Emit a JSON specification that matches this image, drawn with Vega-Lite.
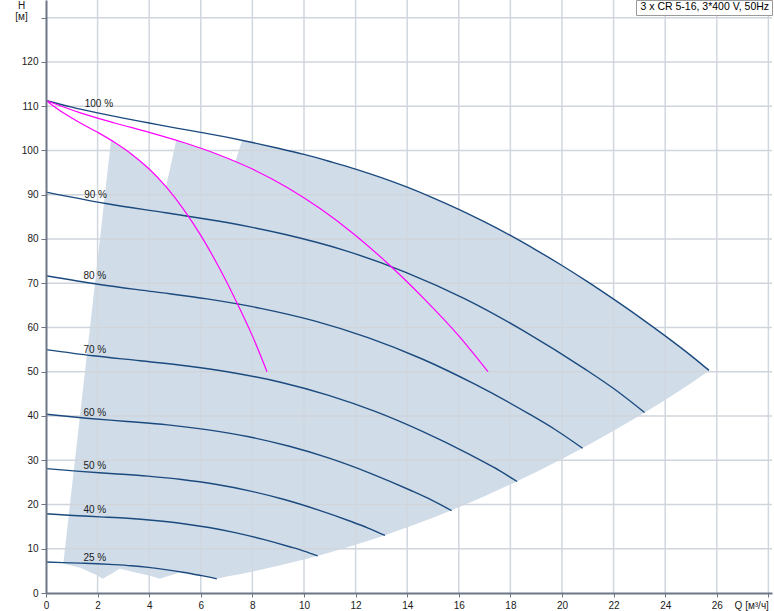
{
  "$schema": "https://vega.github.io/schema/vega-lite/v6.json",
  "autosize": "none",
  "width": 726,
  "height": 593,
  "padding": {"left": 46, "top": 0, "right": 2, "bottom": 18},
  "background": "#ffffff",
  "config": {
    "view": {"stroke": null},
    "font": "Liberation Sans"
  },
  "datasets": {
    "area": [
      {"name": "3 x CR 5-16, 3*400 V, 50Hz", "Q": 0.67, "up": 6.6, "low": 6.6},
      {"name": "3 x CR 5-16, 3*400 V, 50Hz", "Q": 1.0, "up": 23.7, "low": 6.15},
      {"name": "3 x CR 5-16, 3*400 V, 50Hz", "Q": 1.333, "up": 40.9, "low": 5.7},
      {"name": "3 x CR 5-16, 3*400 V, 50Hz", "Q": 1.8, "up": 64.9, "low": 4.48},
      {"name": "3 x CR 5-16, 3*400 V, 50Hz", "Q": 2.0, "up": 75.3, "low": 3.95},
      {"name": "3 x CR 5-16, 3*400 V, 50Hz", "Q": 2.2, "up": 85.6, "low": 3.2},
      {"name": "3 x CR 5-16, 3*400 V, 50Hz", "Q": 2.52, "up": 102.3, "low": 4.32},
      {"name": "3 x CR 5-16, 3*400 V, 50Hz", "Q": 2.85, "up": 101.1, "low": 5.5},
      {"name": "3 x CR 5-16, 3*400 V, 50Hz", "Q": 3.0, "up": 100.5, "low": 5.3},
      {"name": "3 x CR 5-16, 3*400 V, 50Hz", "Q": 3.5, "up": 98.3, "low": 4.6},
      {"name": "3 x CR 5-16, 3*400 V, 50Hz", "Q": 4.0, "up": 95.8, "low": 3.95},
      {"name": "3 x CR 5-16, 3*400 V, 50Hz", "Q": 4.41, "up": 93.4, "low": 3.2},
      {"name": "3 x CR 5-16, 3*400 V, 50Hz", "Q": 4.65, "up": 91.8, "low": 3.68},
      {"name": "3 x CR 5-16, 3*400 V, 50Hz", "Q": 4.8, "up": 95.7, "low": 3.93},
      {"name": "3 x CR 5-16, 3*400 V, 50Hz", "Q": 5.05, "up": 102.3, "low": 4.35},
      {"name": "3 x CR 5-16, 3*400 V, 50Hz", "Q": 5.2, "up": 102.0, "low": 4.8},
      {"name": "3 x CR 5-16, 3*400 V, 50Hz", "Q": 5.5, "up": 101.5, "low": 4.5},
      {"name": "3 x CR 5-16, 3*400 V, 50Hz", "Q": 6.0, "up": 100.5, "low": 3.95},
      {"name": "3 x CR 5-16, 3*400 V, 50Hz", "Q": 6.5, "up": 99.5, "low": 3.35},
      {"name": "3 x CR 5-16, 3*400 V, 50Hz", "Q": 6.62, "up": 99.2, "low": 3.2},
      {"name": "3 x CR 5-16, 3*400 V, 50Hz", "Q": 7.0, "up": 98.3, "low": 3.71},
      {"name": "3 x CR 5-16, 3*400 V, 50Hz", "Q": 7.34, "up": 97.5, "low": 4.08},
      {"name": "3 x CR 5-16, 3*400 V, 50Hz", "Q": 7.6, "up": 102.3, "low": 4.37},
      {"name": "3 x CR 5-16, 3*400 V, 50Hz", "Q": 8, "up": 101.8, "low": 4.85},
      {"name": "3 x CR 5-16, 3*400 V, 50Hz", "Q": 9, "up": 100.5, "low": 6.13},
      {"name": "3 x CR 5-16, 3*400 V, 50Hz", "Q": 10, "up": 99.1, "low": 7.57},
      {"name": "3 x CR 5-16, 3*400 V, 50Hz", "Q": 11, "up": 97.5, "low": 9.16},
      {"name": "3 x CR 5-16, 3*400 V, 50Hz", "Q": 12, "up": 95.8, "low": 10.9},
      {"name": "3 x CR 5-16, 3*400 V, 50Hz", "Q": 13, "up": 93.85, "low": 12.79},
      {"name": "3 x CR 5-16, 3*400 V, 50Hz", "Q": 14, "up": 91.7, "low": 14.84},
      {"name": "3 x CR 5-16, 3*400 V, 50Hz", "Q": 15, "up": 89.3, "low": 17.03},
      {"name": "3 x CR 5-16, 3*400 V, 50Hz", "Q": 16, "up": 86.7, "low": 19.38},
      {"name": "3 x CR 5-16, 3*400 V, 50Hz", "Q": 17, "up": 83.85, "low": 21.88},
      {"name": "3 x CR 5-16, 3*400 V, 50Hz", "Q": 18, "up": 80.8, "low": 24.53},
      {"name": "3 x CR 5-16, 3*400 V, 50Hz", "Q": 19, "up": 77.5, "low": 27.33},
      {"name": "3 x CR 5-16, 3*400 V, 50Hz", "Q": 20, "up": 74.0, "low": 30.28},
      {"name": "3 x CR 5-16, 3*400 V, 50Hz", "Q": 21, "up": 70.3, "low": 33.38},
      {"name": "3 x CR 5-16, 3*400 V, 50Hz", "Q": 22, "up": 66.4, "low": 36.64},
      {"name": "3 x CR 5-16, 3*400 V, 50Hz", "Q": 23, "up": 62.35, "low": 40.04},
      {"name": "3 x CR 5-16, 3*400 V, 50Hz", "Q": 24, "up": 58.1, "low": 43.6},
      {"name": "3 x CR 5-16, 3*400 V, 50Hz", "Q": 25, "up": 53.65, "low": 47.4},
      {"name": "3 x CR 5-16, 3*400 V, 50Hz", "Q": 25.7, "up": 50.3, "low": 50.3}
    ],
    "curves": [
      {"s": "100", "Q": 0, "H": 111.3}, {"s": "100", "Q": 1, "H": 109.8}, {"s": "100", "Q": 2, "H": 108.5},
      {"s": "100", "Q": 3, "H": 107.3}, {"s": "100", "Q": 4, "H": 106.2}, {"s": "100", "Q": 5, "H": 105.1},
      {"s": "100", "Q": 6, "H": 104.1}, {"s": "100", "Q": 7, "H": 103.0}, {"s": "100", "Q": 8, "H": 101.8},
      {"s": "100", "Q": 9, "H": 100.5}, {"s": "100", "Q": 10, "H": 99.1}, {"s": "100", "Q": 11, "H": 97.5},
      {"s": "100", "Q": 12, "H": 95.8}, {"s": "100", "Q": 13, "H": 93.85}, {"s": "100", "Q": 14, "H": 91.7},
      {"s": "100", "Q": 15, "H": 89.3}, {"s": "100", "Q": 16, "H": 86.7}, {"s": "100", "Q": 17, "H": 83.85},
      {"s": "100", "Q": 18, "H": 80.8}, {"s": "100", "Q": 19, "H": 77.5}, {"s": "100", "Q": 20, "H": 74.0},
      {"s": "100", "Q": 21, "H": 70.3}, {"s": "100", "Q": 22, "H": 66.4}, {"s": "100", "Q": 23, "H": 62.35},
      {"s": "100", "Q": 24, "H": 58.1}, {"s": "100", "Q": 25, "H": 53.65}, {"s": "100", "Q": 25.7, "H": 50.3},
      {"s": "90", "Q": 0, "H": 90.6}, {"s": "90", "Q": 2.32, "H": 88.02}, {"s": "90", "Q": 4.64, "H": 85.91},
      {"s": "90", "Q": 6.96, "H": 83.77}, {"s": "90", "Q": 9.28, "H": 81.01}, {"s": "90", "Q": 11.6, "H": 77.38},
      {"s": "90", "Q": 13.92, "H": 72.53}, {"s": "90", "Q": 16.24, "H": 66.47}, {"s": "90", "Q": 18.56, "H": 59.08},
      {"s": "90", "Q": 20.88, "H": 50.65}, {"s": "90", "Q": 22.04, "H": 46.04}, {"s": "90", "Q": 23.2, "H": 40.8},
      {"s": "80", "Q": 0, "H": 71.7}, {"s": "80", "Q": 2.08, "H": 69.72}, {"s": "80", "Q": 4.16, "H": 68.09},
      {"s": "80", "Q": 6.24, "H": 66.46}, {"s": "80", "Q": 8.32, "H": 64.33}, {"s": "80", "Q": 10.4, "H": 61.49},
      {"s": "80", "Q": 12.48, "H": 57.7}, {"s": "80", "Q": 14.56, "H": 52.93}, {"s": "80", "Q": 16.64, "H": 47.12},
      {"s": "80", "Q": 18.72, "H": 40.48}, {"s": "80", "Q": 19.76, "H": 36.84}, {"s": "80", "Q": 20.8, "H": 32.7},
      {"s": "70", "Q": 0, "H": 55.0}, {"s": "70", "Q": 1.826, "H": 53.61}, {"s": "70", "Q": 3.652, "H": 52.48},
      {"s": "70", "Q": 5.478, "H": 51.3}, {"s": "70", "Q": 7.304, "H": 49.72}, {"s": "70", "Q": 9.13, "H": 47.57},
      {"s": "70", "Q": 10.956, "H": 44.66}, {"s": "70", "Q": 12.782, "H": 40.97}, {"s": "70", "Q": 14.608, "H": 36.46},
      {"s": "70", "Q": 16.434, "H": 31.28}, {"s": "70", "Q": 17.347, "H": 28.43}, {"s": "70", "Q": 18.26, "H": 25.2},
      {"s": "60", "Q": 0, "H": 40.4}, {"s": "60", "Q": 1.572, "H": 39.5}, {"s": "60", "Q": 3.144, "H": 38.77},
      {"s": "60", "Q": 4.716, "H": 37.98}, {"s": "60", "Q": 6.288, "H": 36.85}, {"s": "60", "Q": 7.86, "H": 35.3},
      {"s": "60", "Q": 9.432, "H": 33.15}, {"s": "60", "Q": 11.004, "H": 30.42}, {"s": "60", "Q": 12.576, "H": 27.05},
      {"s": "60", "Q": 14.148, "H": 23.16}, {"s": "60", "Q": 14.934, "H": 21.03}, {"s": "60", "Q": 15.72, "H": 18.6},
      {"s": "50", "Q": 0, "H": 28.1}, {"s": "50", "Q": 1.314, "H": 27.48}, {"s": "50", "Q": 2.628, "H": 26.96},
      {"s": "50", "Q": 3.942, "H": 26.4}, {"s": "50", "Q": 5.256, "H": 25.64}, {"s": "50", "Q": 6.57, "H": 24.56},
      {"s": "50", "Q": 7.884, "H": 23.08}, {"s": "50", "Q": 9.198, "H": 21.18}, {"s": "50", "Q": 10.512, "H": 18.84},
      {"s": "50", "Q": 11.826, "H": 16.16}, {"s": "50", "Q": 12.483, "H": 14.68}, {"s": "50", "Q": 13.14, "H": 13.0},
      {"s": "40", "Q": 0, "H": 17.9}, {"s": "40", "Q": 1.053, "H": 17.52}, {"s": "40", "Q": 2.106, "H": 17.21},
      {"s": "40", "Q": 3.159, "H": 16.88}, {"s": "40", "Q": 4.212, "H": 16.38}, {"s": "40", "Q": 5.265, "H": 15.72},
      {"s": "40", "Q": 6.318, "H": 14.79}, {"s": "40", "Q": 7.371, "H": 13.59}, {"s": "40", "Q": 8.424, "H": 12.12},
      {"s": "40", "Q": 9.477, "H": 10.4}, {"s": "40", "Q": 10.0, "H": 9.47}, {"s": "40", "Q": 10.53, "H": 8.4},
      {"s": "25", "Q": 0, "H": 7.0}, {"s": "25", "Q": 0.662, "H": 6.86}, {"s": "25", "Q": 1.324, "H": 6.74},
      {"s": "25", "Q": 1.986, "H": 6.61}, {"s": "25", "Q": 2.648, "H": 6.41}, {"s": "25", "Q": 3.31, "H": 6.15},
      {"s": "25", "Q": 3.972, "H": 5.78}, {"s": "25", "Q": 4.634, "H": 5.29}, {"s": "25", "Q": 5.296, "H": 4.7},
      {"s": "25", "Q": 5.958, "H": 4.01}, {"s": "25", "Q": 6.289, "H": 3.64}, {"s": "25", "Q": 6.62, "H": 3.2}
    ],
    "pumps": [
      {"s": "1", "Q": 0, "H": 111.3}, {"s": "1", "Q": 0.667, "H": 108.5}, {"s": "1", "Q": 1.333, "H": 106.2},
      {"s": "1", "Q": 2, "H": 104.1}, {"s": "1", "Q": 2.667, "H": 101.8}, {"s": "1", "Q": 3.333, "H": 99.1},
      {"s": "1", "Q": 4, "H": 95.8}, {"s": "1", "Q": 4.667, "H": 91.7}, {"s": "1", "Q": 5.333, "H": 86.7},
      {"s": "1", "Q": 6, "H": 80.8}, {"s": "1", "Q": 6.667, "H": 74.0}, {"s": "1", "Q": 7.333, "H": 66.4},
      {"s": "1", "Q": 8, "H": 58.1}, {"s": "1", "Q": 8.567, "H": 50.0},
      {"s": "2", "Q": 0, "H": 111.3}, {"s": "2", "Q": 1.333, "H": 108.5}, {"s": "2", "Q": 2.667, "H": 106.2},
      {"s": "2", "Q": 4, "H": 104.1}, {"s": "2", "Q": 5.333, "H": 101.8}, {"s": "2", "Q": 6.667, "H": 99.1},
      {"s": "2", "Q": 8, "H": 95.8}, {"s": "2", "Q": 9.333, "H": 91.7}, {"s": "2", "Q": 10.667, "H": 86.7},
      {"s": "2", "Q": 12, "H": 80.8}, {"s": "2", "Q": 13.333, "H": 74.0}, {"s": "2", "Q": 14.667, "H": 66.4},
      {"s": "2", "Q": 16, "H": 58.1}, {"s": "2", "Q": 17.133, "H": 50.0}
    ],
    "labels": [
      {"t": "100 %", "Q": 1.5, "H": 110.6},
      {"t": "90 %", "Q": 1.48, "H": 90.0},
      {"t": "80 %", "Q": 1.45, "H": 71.6},
      {"t": "70 %", "Q": 1.45, "H": 55.0},
      {"t": "60 %", "Q": 1.45, "H": 40.7},
      {"t": "50 %", "Q": 1.45, "H": 28.6},
      {"t": "40 %", "Q": 1.45, "H": 18.7},
      {"t": "25 %", "Q": 1.45, "H": 8.0}
    ],
    "gridx": [
      {"v": 2}, {"v": 4}, {"v": 6}, {"v": 8}, {"v": 10}, {"v": 12}, {"v": 14},
      {"v": 16}, {"v": 18}, {"v": 20}, {"v": 22}, {"v": 24}, {"v": 26}, {"v": 28}
    ],
    "gridy": [
      {"v": 10}, {"v": 20}, {"v": 30}, {"v": 40}, {"v": 50}, {"v": 60}, {"v": 70},
      {"v": 80}, {"v": 90}, {"v": 100}, {"v": 110}, {"v": 120}, {"v": 130}
    ]
  },
  "layer": [
    {
      "data": {"name": "area"},
      "mark": {"type": "area", "interpolate": "linear", "opacity": 1},
      "encoding": {
        "x": {
          "field": "Q", "type": "quantitative",
          "scale": {"domain": [0, 28.14], "nice": false, "zero": false},
          "axis": {
            "values": [0, 2, 4, 6, 8, 10, 12, 14, 16, 18, 20, 22, 24, 26, 28],
            "labelExpr": "datum.value == 28 ? 'Q [м³/ч]' : datum.label",
            "labelAlign": {"condition": {"test": "datum.value == 28", "value": "right"}, "value": "center"},
            "labelFlush": false,
            "labelOverlap": false,
            "labelBound": false,
            "labelFontSize": 10,
            "labelColor": "#1a1a1a",
            "labelPadding": 3,
            "tickSize": 4,
            "tickColor": "#6e7686",
            "domainColor": "#6e7686",
            "domainWidth": 2,
            "grid": false,
            "title": null,
            "zindex": 1
          }
        },
        "y": {
          "field": "up", "type": "quantitative",
          "scale": {"domain": [0, 134], "nice": false, "zero": false},
          "axis": {
            "values": [0, 10, 20, 30, 40, 50, 60, 70, 80, 90, 100, 110, 120, 130],
            "labelExpr": "datum.value == 130 ? '' : datum.label",
            "labelFontSize": 10,
            "labelColor": "#1a1a1a",
            "labelPadding": 3,
            "tickSize": 5,
            "tickColor": "#6e7686",
            "domainColor": "#6e7686",
            "domainWidth": 2,
            "grid": false,
            "title": ["H", "[м]"],
            "titleAngle": 0,
            "titleAlign": "center",
            "titleBaseline": "top",
            "titleX": -25,
            "titleY": 0,
            "titleFontSize": 10,
            "titleFontWeight": "normal",
            "titleLineHeight": 11,
            "titleColor": "#1a1a1a",
            "zindex": 1
          }
        },
        "y2": {"field": "low"},
        "color": {
          "field": "name", "type": "nominal",
          "scale": {"range": ["#d0dce8"]},
          "legend": {
            "title": null,
            "orient": "top-right",
            "offset": 0,
            "symbolSize": 0,
            "symbolOpacity": 0,
            "symbolStrokeWidth": 0,
            "labelOffset": -8,
            "padding": 2,
            "strokeColor": "#9a9a9a",
            "fillColor": "#ffffff",
            "labelFontSize": 10.5,
            "labelColor": "#000000",
            "labelLimit": 400
          }
        }
      }
    },
    {
      "data": {"name": "gridx"},
      "mark": {"type": "rule", "color": "#d0d7df", "strokeWidth": 1.5},
      "encoding": {"x": {"field": "v", "type": "quantitative"}}
    },
    {
      "data": {"name": "gridy"},
      "mark": {"type": "rule", "color": "#d0d5db", "strokeWidth": 1.5},
      "encoding": {"y": {"field": "v", "type": "quantitative"}}
    },
    {
      "data": {"name": "curves"},
      "mark": {"type": "line", "color": "#1b4a7e", "strokeWidth": 1.4, "interpolate": "monotone"},
      "encoding": {
        "x": {"field": "Q", "type": "quantitative"},
        "y": {"field": "H", "type": "quantitative"},
        "detail": {"field": "s", "type": "nominal"}
      }
    },
    {
      "data": {"name": "pumps"},
      "mark": {"type": "line", "color": "#ff00ff", "strokeWidth": 1.2, "interpolate": "monotone"},
      "encoding": {
        "x": {"field": "Q", "type": "quantitative"},
        "y": {"field": "H", "type": "quantitative"},
        "detail": {"field": "s", "type": "nominal"}
      }
    },
    {
      "data": {"name": "labels"},
      "mark": {"type": "text", "align": "left", "baseline": "middle", "fontSize": 10, "color": "#1a1a1a"},
      "encoding": {
        "x": {"field": "Q", "type": "quantitative"},
        "y": {"field": "H", "type": "quantitative"},
        "text": {"field": "t", "type": "nominal"}
      }
    }
  ]
}
